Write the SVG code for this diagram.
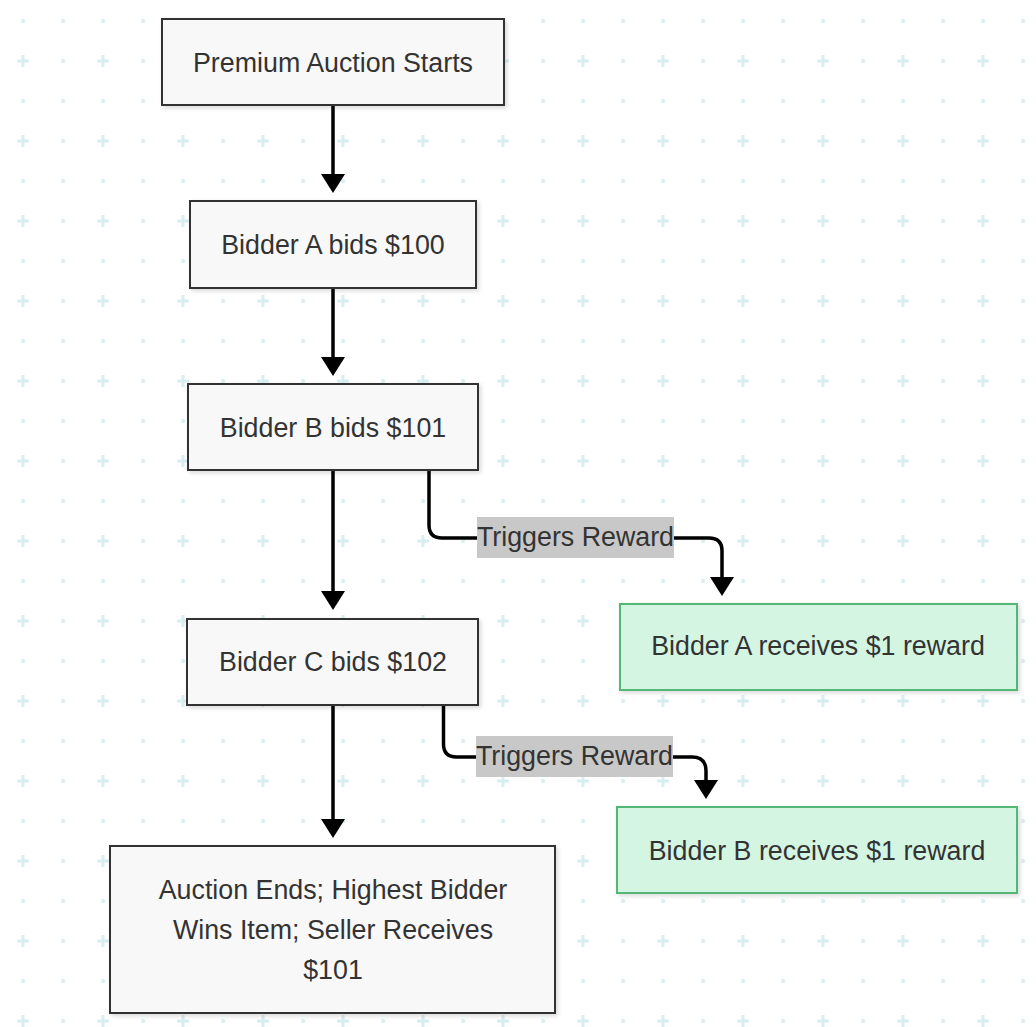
<svg xmlns="http://www.w3.org/2000/svg" width="1036" height="1027" viewBox="0 0 1036 1027">
<defs>
<pattern id="grid" patternUnits="userSpaceOnUse" x="3" y="1" width="80" height="80">
<circle cx="20" cy="20" r="2.2" fill="#dcf0f3"/>
<circle cx="60" cy="20" r="2.2" fill="#dcf0f3"/>
<circle cx="60" cy="60" r="2.2" fill="#dcf0f3"/>
<path d="M14,60 H26 M20,54 V66" stroke="#d6edf1" stroke-width="3"/>
</pattern>
<marker id="arrow" markerUnits="userSpaceOnUse" markerWidth="20" markerHeight="24" viewBox="0 0 20 24" refX="0" refY="12" orient="auto">
<path d="M0,0 L19,12 L0,24 z" fill="#000"/>
</marker>
<filter id="shadow" x="-10%" y="-10%" width="120%" height="130%">
<feDropShadow dx="2" dy="2" stdDeviation="2" flood-color="#000" flood-opacity="0.15"/>
</filter>
</defs>
<style>
.node rect{fill:#f8f8f8;stroke:#333;stroke-width:2;filter:url(#shadow)}
.reward rect{fill:#d5f5e3;stroke:#52b874;stroke-width:2;filter:url(#shadow)}
text{font-family:"Liberation Sans",Arial,sans-serif;font-size:26.8px;fill:#333;text-anchor:middle}
.edge{fill:none;stroke:#000;stroke-width:3.5;marker-end:url(#arrow)}
.lbl{fill:#c8c8c8}
</style>
<rect width="1036" height="1027" fill="#fff"/>
<rect width="1036" height="1027" fill="url(#grid)"/>
<g id="connectors">
<path class="edge" d="M333,105 V174"/>
<path class="edge" d="M333,288 V357"/>
<path class="edge" d="M333,470 V591"/>
<path class="edge" d="M333,705 V819"/>
<path class="edge" d="M429,470 V525 Q429,538 442,538 H709 Q722,538 722,551 V577"/>
<path class="edge" d="M443.5,705 V744 Q443.5,757 456.5,757 H692 Q706,757 706,771 V780"/>
<g id="label-1"><rect class="lbl" x="477" y="517" width="197" height="41"/><text x="575.5" y="546">Triggers Reward</text></g>
<g id="label-2"><rect class="lbl" x="476" y="736" width="197" height="41"/><text x="574.5" y="765">Triggers Reward</text></g>
</g>
<g id="n-start" class="node"><rect x="162" y="19" width="342" height="86"/><text x="333" y="72">Premium Auction Starts</text></g>
<g id="n-bidA" class="node"><rect x="190" y="201" width="286" height="87"/><text x="333" y="254">Bidder A bids $100</text></g>
<g id="n-bidB" class="node"><rect x="188" y="384" width="290" height="86"/><text x="333" y="437">Bidder B bids $101</text></g>
<g id="n-bidC" class="node"><rect x="187" y="619" width="291" height="86"/><text x="333" y="671">Bidder C bids $102</text></g>
<g id="n-end" class="node"><rect x="110" y="846" width="445" height="167"/><text x="333" y="899">Auction Ends; Highest Bidder</text><text x="333" y="939">Wins Item; Seller Receives</text><text x="333" y="979">$101</text></g>
<g id="n-rewardA" class="reward"><rect x="620" y="604" width="397" height="86"/><text x="818" y="655">Bidder A receives $1 reward</text></g>
<g id="n-rewardB" class="reward"><rect x="617" y="807" width="400" height="86"/><text x="817" y="860">Bidder B receives $1 reward</text></g>
</svg>
